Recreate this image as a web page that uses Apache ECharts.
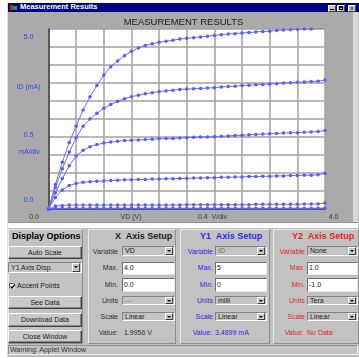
<!DOCTYPE html>
<html>
<head>
<meta charset="utf-8">
<script src="https://cdn.jsdelivr.net/npm/echarts@6/dist/echarts.min.js"></script>
<style>
html, body { margin: 0; padding: 0; background: #fff; }
body { width: 359px; height: 358px; position: relative; overflow: hidden; font-family: "Liberation Sans", Arial, sans-serif; }
.a { position: absolute; box-sizing: border-box; }
.txt { position: absolute; font-size: 7px; white-space: nowrap; line-height: 10px; }
.r { text-align: right; }
.btn { position: absolute; box-sizing: border-box; background: #c8c8c8; border: 1px solid; border-color: #fff #404040 #404040 #fff; box-shadow: inset -1px -1px #8a8a8a; font-size: 7px; text-align: center; color: #202020; }
.sel { position: absolute; box-sizing: border-box; background: #c4c4c4; border: 1px solid; border-color: #808080 #fff #fff #808080; font-size: 7px; padding-left: 2px; color: #202020; white-space: nowrap; }
.sel .ar { position: absolute; right: 1px; top: 0px; bottom: 0px; width: 8px; box-sizing: border-box; background: #c8c8c8; border: 1px solid; border-color: #fff #404040 #404040 #fff; }
.sel .ar::after { content: ""; position: absolute; left: 1px; top: 2px; border-left: 2px solid transparent; border-right: 2px solid transparent; border-top: 2px solid #000; }
.fld { position: absolute; box-sizing: border-box; background: #fff; border: 1px solid; border-color: #707070 #e8e8e8 #e8e8e8 #707070; font-size: 7px; padding-left: 1px; color: #202020; }
.pan { position: absolute; box-sizing: border-box; background: #c2c2c2; border: 1px solid; border-color: #e8e8e8 #909090 #909090 #e8e8e8; }
.h { position: absolute; font-size: 9px; font-weight: bold; white-space: nowrap; line-height: 10px; }
.blue { color: #2b2bf0; }
.red { color: #e82222; }
</style>
</head>
<body>
<!-- window frame -->
<div class="a" style="left:7px;top:3px;width:352px;height:354px;background:#c0c0c0;border-left:1px solid #e0e0e0;"></div>
<div class="a" style="left:8px;top:3px;width:351px;height:9px;background:#000080;"></div>
<div class="a" style="left:10px;top:5px;width:3px;height:5px;background:#d02020;"></div>
<div class="a" style="left:13px;top:6px;width:4px;height:4px;background:#20a020;"></div>
<div class="txt" style="left:20px;top:2px;color:#fff;font-weight:bold;font-size:7.5px;">Measurement Results</div>
<div class="a" style="left:328px;top:5px;width:8px;height:7px;background:#c0c0c0;border:1px solid;border-color:#fff #404040 #404040 #fff;"></div>
<div class="a" style="left:330px;top:9px;width:4px;height:1px;background:#000;"></div>
<div class="a" style="left:337px;top:5px;width:8px;height:7px;background:#c0c0c0;border:1px solid;border-color:#fff #404040 #404040 #fff;"></div>
<div class="a" style="left:339px;top:6px;width:4px;height:4px;border:1px solid #000;border-top-width:2px;"></div>
<div class="a" style="left:348px;top:5px;width:8px;height:7px;background:#c0c0c0;border:1px solid;border-color:#fff #404040 #404040 #fff;font-size:6px;line-height:5px;text-align:center;">x</div>

<!-- chart -->
<div id="plot" class="a" style="left:8px;top:12px;width:345px;height:210px;"></div>
<div class="a" style="left:353px;top:12px;width:5px;height:210px;background:#d8d8d8;"></div>
<div class="a" style="left:8px;top:222px;width:350px;height:6px;background:#fbfbfb;border-top:1px solid #909090;"></div>

<!-- display options -->
<div class="pan" style="left:8px;top:229px;width:75px;height:115px;"></div>
<div class="h" style="left:12px;top:231px;">Display Options</div>
<div class="btn" style="left:8px;top:246px;width:74px;height:13px;line-height:11px;">Auto Scale</div>
<div class="sel" style="left:8px;top:262px;width:74px;height:11px;line-height:9px;">Y1 Axis Disp.<div class="ar"></div></div>
<div class="a" style="left:9px;top:283px;width:6px;height:6px;background:#fff;border:1px solid;border-color:#606060 #e0e0e0 #e0e0e0 #606060;"></div>
<svg class="a" style="left:9px;top:283px;" width="7" height="7"><polyline points="1.5,3.5 3,5 6,1.5" fill="none" stroke="#000" stroke-width="1.2"/></svg>
<div class="txt" style="left:17px;top:281px;color:#202020;">Accent Points</div>
<div class="btn" style="left:8px;top:296px;width:74px;height:13px;line-height:11px;">See Data</div>
<div class="btn" style="left:8px;top:313px;width:74px;height:14px;line-height:12px;">Download Data</div>
<div class="btn" style="left:8px;top:330px;width:74px;height:13px;line-height:11px;">Close Window</div>

<!-- X axis setup -->
<div class="pan" style="left:88px;top:229px;width:88px;height:115px;"></div>
<div class="h" style="left:115px;top:231px;color:#202020;">X&nbsp; Axis Setup</div>
<div class="txt r" style="left:84px;width:34px;top:247px;color:#303030;">Variable</div>
<div class="sel" style="left:122px;top:246px;width:53px;height:10px;line-height:8px;">VD<div class="ar"></div></div>
<div class="txt r" style="left:84px;width:34px;top:263px;color:#303030;">Max.</div>
<div class="fld" style="left:122px;top:262px;width:53px;height:13px;line-height:10px;">4.0</div>
<div class="txt r" style="left:84px;width:34px;top:280px;color:#303030;">Min.</div>
<div class="fld" style="left:122px;top:278px;width:53px;height:14px;line-height:11px;">0.0</div>
<div class="txt r" style="left:84px;width:34px;top:296px;color:#303030;">Units</div>
<div class="sel" style="left:122px;top:296px;width:53px;height:9px;line-height:7px;color:#808080;">---<div class="ar"></div></div>
<div class="txt r" style="left:84px;width:34px;top:312px;color:#303030;">Scale</div>
<div class="sel" style="left:122px;top:312px;width:53px;height:9px;line-height:7px;">Linear<div class="ar"></div></div>
<div class="txt r" style="left:84px;width:34px;top:328px;color:#303030;">Value:</div>
<div class="txt" style="left:124px;top:328px;color:#303030;">1.9956 V</div>

<!-- Y1 axis setup -->
<div class="pan" style="left:180px;top:229px;width:90px;height:115px;"></div>
<div class="h blue" style="left:200px;top:231px;">Y1&nbsp; Axis Setup</div>
<div class="txt r blue" style="left:176px;width:37px;top:247px;">Variable</div>
<div class="sel" style="left:215px;top:246px;width:52px;height:10px;line-height:8px;color:#707070;">ID<div class="ar"></div></div>
<div class="txt r blue" style="left:176px;width:37px;top:263px;">Max.</div>
<div class="fld" style="left:215px;top:262px;width:52px;height:13px;line-height:10px;">5</div>
<div class="txt r blue" style="left:176px;width:37px;top:280px;">Min.</div>
<div class="fld" style="left:215px;top:278px;width:52px;height:14px;line-height:11px;">0</div>
<div class="txt r blue" style="left:176px;width:37px;top:296px;">Units</div>
<div class="sel" style="left:215px;top:296px;width:52px;height:9px;line-height:7px;">milli<div class="ar"></div></div>
<div class="txt r blue" style="left:176px;width:37px;top:312px;">Scale</div>
<div class="sel" style="left:215px;top:312px;width:52px;height:9px;line-height:7px;">Linear<div class="ar"></div></div>
<div class="txt r blue" style="left:176px;width:36px;top:328px;">Value:</div>
<div class="txt blue" style="left:215px;top:328px;">3.4899 mA</div>

<!-- Y2 axis setup -->
<div class="pan" style="left:273px;top:229px;width:86px;height:115px;"></div>
<div class="h red" style="left:292px;top:231px;">Y2&nbsp; Axis Setup</div>
<div class="txt r red" style="left:268px;width:37px;top:247px;">Variable</div>
<div class="sel" style="left:307px;top:246px;width:51px;height:10px;line-height:8px;">None<div class="ar"></div></div>
<div class="txt r red" style="left:268px;width:37px;top:263px;">Max.</div>
<div class="fld" style="left:307px;top:262px;width:51px;height:13px;line-height:10px;">1.0</div>
<div class="txt r red" style="left:268px;width:37px;top:280px;">Min.</div>
<div class="fld" style="left:307px;top:278px;width:51px;height:14px;line-height:11px;">-1.0</div>
<div class="txt r red" style="left:268px;width:37px;top:296px;">Units</div>
<div class="sel" style="left:307px;top:296px;width:51px;height:9px;line-height:7px;">Tera<div class="ar"></div></div>
<div class="txt r red" style="left:268px;width:37px;top:312px;">Scale</div>
<div class="sel" style="left:307px;top:312px;width:51px;height:9px;line-height:7px;">Linear<div class="ar"></div></div>
<div class="txt r red" style="left:268px;width:36px;top:328px;">Value:</div>
<div class="txt red" style="left:307px;top:328px;">No Data</div>

<!-- status bar -->
<div class="a" style="left:8px;top:345px;width:350px;height:10px;background:#c4c4c4;border:1px solid;border-color:#909090 #f0f0f0 #f0f0f0 #909090;"></div>
<div class="txt" style="left:10px;top:345px;color:#303030;">Warning: Applet Window</div>

<script>
// drain voltage steps (V)
const vd = [0.0, 0.1, 0.2, 0.3, 0.4, 0.5, 0.6, 0.7, 0.8, 0.9,
            1.0, 1.1, 1.2, 1.3, 1.4, 1.5, 1.6, 1.7, 1.8, 1.9,
            2.0, 2.1, 2.2, 2.3, 2.4, 2.5, 2.6, 2.7, 2.8, 2.9,
            3.0, 3.1, 3.2, 3.3, 3.4, 3.5, 3.6, 3.7, 3.8, 3.9, 4.0];

// drain current (mA), one curve per gate step
const idCurve1 = [0, 0.68, 1.30, 1.85, 2.30, 2.75, 3.12, 3.43, 3.72, 3.95,
                  4.11, 4.26, 4.38, 4.47, 4.54, 4.59, 4.63, 4.66, 4.69, 4.72,
                  4.74, 4.76, 4.78, 4.80, 4.82, 4.84, 4.86, 4.87, 4.89, 4.90,
                  4.92, 4.93, 4.94, 4.96, 4.97, 4.98, 4.99, 5.00, 5.00, 5.01, 5.02];
const idCurve2 = [0, 0.60, 1.12, 1.58, 1.98, 2.30, 2.50, 2.66, 2.80, 2.90,
                  2.99, 3.06, 3.12, 3.16, 3.20, 3.23, 3.26, 3.28, 3.30, 3.32,
                  3.33, 3.34, 3.35, 3.36, 3.37, 3.39, 3.40, 3.41, 3.43, 3.44,
                  3.45, 3.46, 3.47, 3.48, 3.50, 3.51, 3.52, 3.53, 3.54, 3.55, 3.58];
const idCurve3 = [0, 0.45, 0.85, 1.20, 1.47, 1.63, 1.73, 1.79, 1.83, 1.86,
                  1.88, 1.90, 1.91, 1.92, 1.93, 1.94, 1.95, 1.96, 1.96, 1.97,
                  1.98, 1.99, 2.00, 2.00, 2.01, 2.02, 2.03, 2.04, 2.05, 2.06,
                  2.07, 2.08, 2.09, 2.10, 2.11, 2.12, 2.12, 2.13, 2.14, 2.15, 2.18];
const idCurve4 = [0, 0.32, 0.53, 0.65, 0.71, 0.74, 0.76, 0.77, 0.78, 0.79,
                  0.80, 0.81, 0.81, 0.82, 0.82, 0.83, 0.83, 0.84, 0.84, 0.85,
                  0.85, 0.86, 0.86, 0.87, 0.87, 0.88, 0.88, 0.89, 0.89, 0.90,
                  0.90, 0.91, 0.91, 0.92, 0.92, 0.93, 0.93, 0.94, 0.94, 0.95, 0.99];
const idCurve5 = [0, 0.08, 0.10, 0.11, 0.11, 0.11, 0.11, 0.11, 0.11, 0.11,
                  0.11, 0.11, 0.11, 0.11, 0.11, 0.11, 0.11, 0.11, 0.11, 0.11,
                  0.12, 0.12, 0.12, 0.12, 0.12, 0.12, 0.12, 0.12, 0.12, 0.12,
                  0.13, 0.13, 0.13, 0.13, 0.13, 0.13, 0.13, 0.14, 0.14, 0.14, 0.17];
const idCurve6 = [0, 0.02, 0.02, 0.02, 0.02, 0.02, 0.02, 0.02, 0.02, 0.02,
                  0.02, 0.02, 0.02, 0.02, 0.02, 0.02, 0.02, 0.02, 0.02, 0.02,
                  0.02, 0.02, 0.02, 0.02, 0.02, 0.02, 0.02, 0.02, 0.02, 0.02,
                  0.02, 0.02, 0.02, 0.02, 0.02, 0.02, 0.02, 0.02, 0.02, 0.02, 0.03];

const curves = [idCurve1, idCurve2, idCurve3, idCurve4, idCurve5, idCurve6];

const chartTitle = 'MEASUREMENT RESULTS';
const yNotes = ['5.0', 'ID (mA)', '0.5', 'mA/div', '0.0'];
const xNotes = ['0.0', 'VD (V)', '0.4  V/div', '4.0'];

const chart = echarts.init(document.getElementById('plot'));

const note = (text, x, y, color, size) => ({
  type: 'text',
  x: x,
  y: y,
  silent: true,
  style: {
    text: text,
    fill: color,
    font: size + 'px "Liberation Sans", Arial, sans-serif',
    align: 'center', verticalAlign: 'middle',
    textAlign: 'center', textVerticalAlign: 'middle'
  }
});

// y notes sit at fixed spots left of the plot, x notes under it
const yNoteY = [25, 75, 123, 140.5, 188];
const xNoteX = [26, 123, 204.5, 325.5];

const option = {
  backgroundColor: '#aaaaaa',
  animation: false,
  grid: { left: 40.5, top: 17, width: 276.5, height: 180, show: true, backgroundColor: '#fff', borderWidth: 0 },
  xAxis: {
    type: 'value', min: 0, max: 4, interval: 0.4,
    axisLine: { show: true, onZero: false, lineStyle: { color: '#3a3a3a', width: 1.5 } },
    axisTick: { show: false },
    axisLabel: { show: false },
    splitLine: { show: true, lineStyle: { color: '#a2a2a2', width: 1.5 } }
  },
  yAxis: {
    type: 'value', min: 0, max: 5, interval: 0.5,
    axisLine: { show: true, onZero: false, lineStyle: { color: '#3a3a3a', width: 1.5 } },
    axisTick: { show: false },
    axisLabel: { show: false },
    splitLine: { show: true, lineStyle: { color: '#a2a2a2', width: 1.5 } }
  },
  series: curves.map((c) => ({
    type: 'line',
    data: vd.map((v, i) => [v, c[i]]),
    symbol: 'circle',
    symbolSize: 3.5,
    showSymbol: true,
    itemStyle: { color: '#5a5aff' },
    lineStyle: { color: '#6c6cff', width: 1 },
    z: 3
  })),
  graphic: [
    note(chartTitle, 175.5, 10, '#1a1a1a', 9.5)
  ].concat(
    yNotes.map((t, i) => note(t, i === 3 ? 21 : 20.5, yNoteY[i], '#3c3cf0', 7)),
    xNotes.map((t, i) => note(t, xNoteX[i], 205, '#3a3a3a', 7))
  )
};

chart.setOption(option);
</script>
</body>
</html>
